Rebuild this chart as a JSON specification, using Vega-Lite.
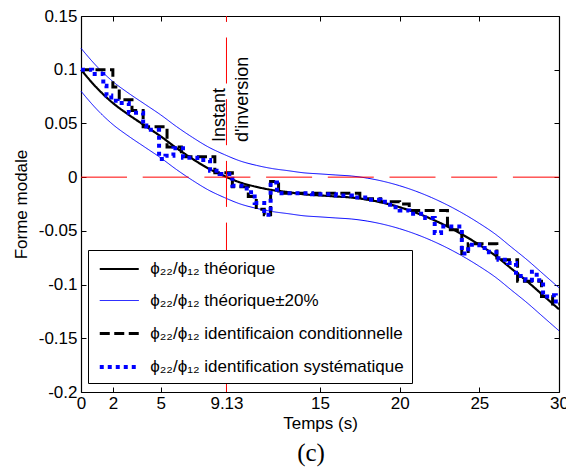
{
  "$schema": "https://vega.github.io/schema/vega-lite/v6.json",
  "width": 478,
  "height": 376,
  "autosize": {"type": "none"},
  "padding": {"left": 81, "top": 16, "right": 7, "bottom": 79},
  "background": "white",
  "config": {
    "view": {"stroke": null},
    "font": "Liberation Sans",
    "axis": {
      "grid": false,
      "domainColor": "#000",
      "domainWidth": 1.2,
      "tickColor": "#000",
      "tickWidth": 1,
      "tickSize": -5,
      "labelColor": "#000",
      "titleColor": "#000",
      "labelFont": "Liberation Sans",
      "titleFont": "Liberation Sans",
      "labelFontSize": 17,
      "titleFontSize": 17,
      "titleFontWeight": "normal"
    }
  },
  "title": {
    "text": "(c)",
    "orient": "bottom",
    "frame": "group",
    "anchor": "middle",
    "font": "Liberation Serif",
    "fontSize": 25,
    "fontWeight": "normal",
    "color": "#000",
    "dx": -9,
    "offset": 9
  },
  "datasets": {
    "theory": [
      {"t": 0, "v": 0.100, "s": "ϕ₂₂/ϕ₁₂ théorique", "g": "th"},
      {"t": 1, "v": 0.083, "s": "ϕ₂₂/ϕ₁₂ théorique", "g": "th"},
      {"t": 2, "v": 0.069, "s": "ϕ₂₂/ϕ₁₂ théorique", "g": "th"},
      {"t": 3, "v": 0.058, "s": "ϕ₂₂/ϕ₁₂ théorique", "g": "th"},
      {"t": 4, "v": 0.048, "s": "ϕ₂₂/ϕ₁₂ théorique", "g": "th"},
      {"t": 5, "v": 0.038, "s": "ϕ₂₂/ϕ₁₂ théorique", "g": "th"},
      {"t": 6, "v": 0.027, "s": "ϕ₂₂/ϕ₁₂ théorique", "g": "th"},
      {"t": 7, "v": 0.017, "s": "ϕ₂₂/ϕ₁₂ théorique", "g": "th"},
      {"t": 8, "v": 0.008, "s": "ϕ₂₂/ϕ₁₂ théorique", "g": "th"},
      {"t": 9, "v": 0.001, "s": "ϕ₂₂/ϕ₁₂ théorique", "g": "th"},
      {"t": 10, "v": -0.005, "s": "ϕ₂₂/ϕ₁₂ théorique", "g": "th"},
      {"t": 11, "v": -0.009, "s": "ϕ₂₂/ϕ₁₂ théorique", "g": "th"},
      {"t": 12, "v": -0.012, "s": "ϕ₂₂/ϕ₁₂ théorique", "g": "th"},
      {"t": 13, "v": -0.014, "s": "ϕ₂₂/ϕ₁₂ théorique", "g": "th"},
      {"t": 14, "v": -0.016, "s": "ϕ₂₂/ϕ₁₂ théorique", "g": "th"},
      {"t": 15, "v": -0.017, "s": "ϕ₂₂/ϕ₁₂ théorique", "g": "th"},
      {"t": 16, "v": -0.018, "s": "ϕ₂₂/ϕ₁₂ théorique", "g": "th"},
      {"t": 17, "v": -0.019, "s": "ϕ₂₂/ϕ₁₂ théorique", "g": "th"},
      {"t": 18, "v": -0.021, "s": "ϕ₂₂/ϕ₁₂ théorique", "g": "th"},
      {"t": 19, "v": -0.024, "s": "ϕ₂₂/ϕ₁₂ théorique", "g": "th"},
      {"t": 20, "v": -0.028, "s": "ϕ₂₂/ϕ₁₂ théorique", "g": "th"},
      {"t": 21, "v": -0.033, "s": "ϕ₂₂/ϕ₁₂ théorique", "g": "th"},
      {"t": 22, "v": -0.039, "s": "ϕ₂₂/ϕ₁₂ théorique", "g": "th"},
      {"t": 23, "v": -0.046, "s": "ϕ₂₂/ϕ₁₂ théorique", "g": "th"},
      {"t": 24, "v": -0.054, "s": "ϕ₂₂/ϕ₁₂ théorique", "g": "th"},
      {"t": 25, "v": -0.063, "s": "ϕ₂₂/ϕ₁₂ théorique", "g": "th"},
      {"t": 26, "v": -0.073, "s": "ϕ₂₂/ϕ₁₂ théorique", "g": "th"},
      {"t": 27, "v": -0.085, "s": "ϕ₂₂/ϕ₁₂ théorique", "g": "th"},
      {"t": 28, "v": -0.097, "s": "ϕ₂₂/ϕ₁₂ théorique", "g": "th"},
      {"t": 29, "v": -0.110, "s": "ϕ₂₂/ϕ₁₂ théorique", "g": "th"},
      {"t": 30, "v": -0.123, "s": "ϕ₂₂/ϕ₁₂ théorique", "g": "th"},
      {"t": 0, "v": 0.120, "s": "ϕ₂₂/ϕ₁₂ théorique±20%", "g": "up"},
      {"t": 1, "v": 0.103, "s": "ϕ₂₂/ϕ₁₂ théorique±20%", "g": "up"},
      {"t": 2, "v": 0.089, "s": "ϕ₂₂/ϕ₁₂ théorique±20%", "g": "up"},
      {"t": 3, "v": 0.078, "s": "ϕ₂₂/ϕ₁₂ théorique±20%", "g": "up"},
      {"t": 4, "v": 0.068, "s": "ϕ₂₂/ϕ₁₂ théorique±20%", "g": "up"},
      {"t": 5, "v": 0.058, "s": "ϕ₂₂/ϕ₁₂ théorique±20%", "g": "up"},
      {"t": 6, "v": 0.047, "s": "ϕ₂₂/ϕ₁₂ théorique±20%", "g": "up"},
      {"t": 7, "v": 0.037, "s": "ϕ₂₂/ϕ₁₂ théorique±20%", "g": "up"},
      {"t": 8, "v": 0.028, "s": "ϕ₂₂/ϕ₁₂ théorique±20%", "g": "up"},
      {"t": 9, "v": 0.021, "s": "ϕ₂₂/ϕ₁₂ théorique±20%", "g": "up"},
      {"t": 10, "v": 0.015, "s": "ϕ₂₂/ϕ₁₂ théorique±20%", "g": "up"},
      {"t": 11, "v": 0.011, "s": "ϕ₂₂/ϕ₁₂ théorique±20%", "g": "up"},
      {"t": 12, "v": 0.008, "s": "ϕ₂₂/ϕ₁₂ théorique±20%", "g": "up"},
      {"t": 13, "v": 0.006, "s": "ϕ₂₂/ϕ₁₂ théorique±20%", "g": "up"},
      {"t": 14, "v": 0.004, "s": "ϕ₂₂/ϕ₁₂ théorique±20%", "g": "up"},
      {"t": 15, "v": 0.003, "s": "ϕ₂₂/ϕ₁₂ théorique±20%", "g": "up"},
      {"t": 16, "v": 0.002, "s": "ϕ₂₂/ϕ₁₂ théorique±20%", "g": "up"},
      {"t": 17, "v": 0.001, "s": "ϕ₂₂/ϕ₁₂ théorique±20%", "g": "up"},
      {"t": 18, "v": -0.001, "s": "ϕ₂₂/ϕ₁₂ théorique±20%", "g": "up"},
      {"t": 19, "v": -0.004, "s": "ϕ₂₂/ϕ₁₂ théorique±20%", "g": "up"},
      {"t": 20, "v": -0.008, "s": "ϕ₂₂/ϕ₁₂ théorique±20%", "g": "up"},
      {"t": 21, "v": -0.013, "s": "ϕ₂₂/ϕ₁₂ théorique±20%", "g": "up"},
      {"t": 22, "v": -0.019, "s": "ϕ₂₂/ϕ₁₂ théorique±20%", "g": "up"},
      {"t": 23, "v": -0.026, "s": "ϕ₂₂/ϕ₁₂ théorique±20%", "g": "up"},
      {"t": 24, "v": -0.034, "s": "ϕ₂₂/ϕ₁₂ théorique±20%", "g": "up"},
      {"t": 25, "v": -0.043, "s": "ϕ₂₂/ϕ₁₂ théorique±20%", "g": "up"},
      {"t": 26, "v": -0.053, "s": "ϕ₂₂/ϕ₁₂ théorique±20%", "g": "up"},
      {"t": 27, "v": -0.065, "s": "ϕ₂₂/ϕ₁₂ théorique±20%", "g": "up"},
      {"t": 28, "v": -0.077, "s": "ϕ₂₂/ϕ₁₂ théorique±20%", "g": "up"},
      {"t": 29, "v": -0.090, "s": "ϕ₂₂/ϕ₁₂ théorique±20%", "g": "up"},
      {"t": 30, "v": -0.103, "s": "ϕ₂₂/ϕ₁₂ théorique±20%", "g": "up"},
      {"t": 0, "v": 0.080, "s": "ϕ₂₂/ϕ₁₂ théorique±20%", "g": "lo"},
      {"t": 1, "v": 0.063, "s": "ϕ₂₂/ϕ₁₂ théorique±20%", "g": "lo"},
      {"t": 2, "v": 0.049, "s": "ϕ₂₂/ϕ₁₂ théorique±20%", "g": "lo"},
      {"t": 3, "v": 0.038, "s": "ϕ₂₂/ϕ₁₂ théorique±20%", "g": "lo"},
      {"t": 4, "v": 0.028, "s": "ϕ₂₂/ϕ₁₂ théorique±20%", "g": "lo"},
      {"t": 5, "v": 0.018, "s": "ϕ₂₂/ϕ₁₂ théorique±20%", "g": "lo"},
      {"t": 6, "v": 0.007, "s": "ϕ₂₂/ϕ₁₂ théorique±20%", "g": "lo"},
      {"t": 7, "v": -0.003, "s": "ϕ₂₂/ϕ₁₂ théorique±20%", "g": "lo"},
      {"t": 8, "v": -0.012, "s": "ϕ₂₂/ϕ₁₂ théorique±20%", "g": "lo"},
      {"t": 9, "v": -0.019, "s": "ϕ₂₂/ϕ₁₂ théorique±20%", "g": "lo"},
      {"t": 10, "v": -0.025, "s": "ϕ₂₂/ϕ₁₂ théorique±20%", "g": "lo"},
      {"t": 11, "v": -0.029, "s": "ϕ₂₂/ϕ₁₂ théorique±20%", "g": "lo"},
      {"t": 12, "v": -0.032, "s": "ϕ₂₂/ϕ₁₂ théorique±20%", "g": "lo"},
      {"t": 13, "v": -0.034, "s": "ϕ₂₂/ϕ₁₂ théorique±20%", "g": "lo"},
      {"t": 14, "v": -0.036, "s": "ϕ₂₂/ϕ₁₂ théorique±20%", "g": "lo"},
      {"t": 15, "v": -0.037, "s": "ϕ₂₂/ϕ₁₂ théorique±20%", "g": "lo"},
      {"t": 16, "v": -0.038, "s": "ϕ₂₂/ϕ₁₂ théorique±20%", "g": "lo"},
      {"t": 17, "v": -0.039, "s": "ϕ₂₂/ϕ₁₂ théorique±20%", "g": "lo"},
      {"t": 18, "v": -0.041, "s": "ϕ₂₂/ϕ₁₂ théorique±20%", "g": "lo"},
      {"t": 19, "v": -0.044, "s": "ϕ₂₂/ϕ₁₂ théorique±20%", "g": "lo"},
      {"t": 20, "v": -0.048, "s": "ϕ₂₂/ϕ₁₂ théorique±20%", "g": "lo"},
      {"t": 21, "v": -0.053, "s": "ϕ₂₂/ϕ₁₂ théorique±20%", "g": "lo"},
      {"t": 22, "v": -0.059, "s": "ϕ₂₂/ϕ₁₂ théorique±20%", "g": "lo"},
      {"t": 23, "v": -0.066, "s": "ϕ₂₂/ϕ₁₂ théorique±20%", "g": "lo"},
      {"t": 24, "v": -0.074, "s": "ϕ₂₂/ϕ₁₂ théorique±20%", "g": "lo"},
      {"t": 25, "v": -0.083, "s": "ϕ₂₂/ϕ₁₂ théorique±20%", "g": "lo"},
      {"t": 26, "v": -0.093, "s": "ϕ₂₂/ϕ₁₂ théorique±20%", "g": "lo"},
      {"t": 27, "v": -0.105, "s": "ϕ₂₂/ϕ₁₂ théorique±20%", "g": "lo"},
      {"t": 28, "v": -0.117, "s": "ϕ₂₂/ϕ₁₂ théorique±20%", "g": "lo"},
      {"t": 29, "v": -0.130, "s": "ϕ₂₂/ϕ₁₂ théorique±20%", "g": "lo"},
      {"t": 30, "v": -0.143, "s": "ϕ₂₂/ϕ₁₂ théorique±20%", "g": "lo"}
    ],
    "cond": [
      {"t": 0, "v": 0.100, "s": "ϕ₂₂/ϕ₁₂ identificaion conditionnelle"},
      {"t": 2.0, "v": 0.084, "s": "ϕ₂₂/ϕ₁₂ identificaion conditionnelle"},
      {"t": 2.4, "v": 0.072, "s": "ϕ₂₂/ϕ₁₂ identificaion conditionnelle"},
      {"t": 3.2, "v": 0.062, "s": "ϕ₂₂/ϕ₁₂ identificaion conditionnelle"},
      {"t": 3.9, "v": 0.047, "s": "ϕ₂₂/ϕ₁₂ identificaion conditionnelle"},
      {"t": 5.4, "v": 0.028, "s": "ϕ₂₂/ϕ₁₂ identificaion conditionnelle"},
      {"t": 6.3, "v": 0.019, "s": "ϕ₂₂/ϕ₁₂ identificaion conditionnelle"},
      {"t": 8.4, "v": 0.004, "s": "ϕ₂₂/ϕ₁₂ identificaion conditionnelle"},
      {"t": 9.5, "v": -0.009, "s": "ϕ₂₂/ϕ₁₂ identificaion conditionnelle"},
      {"t": 10.5, "v": -0.018, "s": "ϕ₂₂/ϕ₁₂ identificaion conditionnelle"},
      {"t": 11.0, "v": -0.030, "s": "ϕ₂₂/ϕ₁₂ identificaion conditionnelle"},
      {"t": 11.5, "v": -0.035, "s": "ϕ₂₂/ϕ₁₂ identificaion conditionnelle"},
      {"t": 11.9, "v": -0.004, "s": "ϕ₂₂/ϕ₁₂ identificaion conditionnelle"},
      {"t": 12.4, "v": -0.015, "s": "ϕ₂₂/ϕ₁₂ identificaion conditionnelle"},
      {"t": 17.5, "v": -0.020, "s": "ϕ₂₂/ϕ₁₂ identificaion conditionnelle"},
      {"t": 18.8, "v": -0.023, "s": "ϕ₂₂/ϕ₁₂ identificaion conditionnelle"},
      {"t": 20.0, "v": -0.025, "s": "ϕ₂₂/ϕ₁₂ identificaion conditionnelle"},
      {"t": 20.6, "v": -0.031, "s": "ϕ₂₂/ϕ₁₂ identificaion conditionnelle"},
      {"t": 23.0, "v": -0.049, "s": "ϕ₂₂/ϕ₁₂ identificaion conditionnelle"},
      {"t": 23.9, "v": -0.071, "s": "ϕ₂₂/ϕ₁₂ identificaion conditionnelle"},
      {"t": 24.3, "v": -0.062, "s": "ϕ₂₂/ϕ₁₂ identificaion conditionnelle"},
      {"t": 26.1, "v": -0.077, "s": "ϕ₂₂/ϕ₁₂ identificaion conditionnelle"},
      {"t": 27.4, "v": -0.097, "s": "ϕ₂₂/ϕ₁₂ identificaion conditionnelle"},
      {"t": 28.9, "v": -0.111, "s": "ϕ₂₂/ϕ₁₂ identificaion conditionnelle"},
      {"t": 29.6, "v": -0.118, "s": "ϕ₂₂/ϕ₁₂ identificaion conditionnelle"},
      {"t": 30, "v": -0.118, "s": "ϕ₂₂/ϕ₁₂ identificaion conditionnelle"}
    ],
    "syst": [
      {"t": 0, "v": 0.100, "s": "ϕ₂₂/ϕ₁₂ identification systématique"},
      {"t": 0.7, "v": 0.096, "s": "ϕ₂₂/ϕ₁₂ identification systématique"},
      {"t": 1.4, "v": 0.085, "s": "ϕ₂₂/ϕ₁₂ identification systématique"},
      {"t": 1.6, "v": 0.076, "s": "ϕ₂₂/ϕ₁₂ identification systématique"},
      {"t": 1.9, "v": 0.071, "s": "ϕ₂₂/ϕ₁₂ identification systématique"},
      {"t": 2.3, "v": 0.069, "s": "ϕ₂₂/ϕ₁₂ identification systématique"},
      {"t": 3.0, "v": 0.060, "s": "ϕ₂₂/ϕ₁₂ identification systématique"},
      {"t": 3.9, "v": 0.048, "s": "ϕ₂₂/ϕ₁₂ identification systématique"},
      {"t": 4.1, "v": 0.044, "s": "ϕ₂₂/ϕ₁₂ identification systématique"},
      {"t": 4.9, "v": 0.017, "s": "ϕ₂₂/ϕ₁₂ identification systématique"},
      {"t": 5.3, "v": 0.020, "s": "ϕ₂₂/ϕ₁₂ identification systématique"},
      {"t": 5.8, "v": 0.027, "s": "ϕ₂₂/ϕ₁₂ identification systématique"},
      {"t": 6.4, "v": 0.018, "s": "ϕ₂₂/ϕ₁₂ identification systématique"},
      {"t": 7.3, "v": 0.016, "s": "ϕ₂₂/ϕ₁₂ identification systématique"},
      {"t": 8.1, "v": 0.006, "s": "ϕ₂₂/ϕ₁₂ identification systématique"},
      {"t": 8.7, "v": 0.003, "s": "ϕ₂₂/ϕ₁₂ identification systématique"},
      {"t": 9.5, "v": -0.008, "s": "ϕ₂₂/ϕ₁₂ identification systématique"},
      {"t": 10.4, "v": -0.014, "s": "ϕ₂₂/ϕ₁₂ identification systématique"},
      {"t": 10.9, "v": -0.024, "s": "ϕ₂₂/ϕ₁₂ identification systématique"},
      {"t": 11.5, "v": -0.035, "s": "ϕ₂₂/ϕ₁₂ identification systématique"},
      {"t": 11.9, "v": -0.005, "s": "ϕ₂₂/ϕ₁₂ identification systématique"},
      {"t": 12.3, "v": -0.015, "s": "ϕ₂₂/ϕ₁₂ identification systématique"},
      {"t": 14.5, "v": -0.016, "s": "ϕ₂₂/ϕ₁₂ identification systématique"},
      {"t": 16.0, "v": -0.017, "s": "ϕ₂₂/ϕ₁₂ identification systématique"},
      {"t": 17.0, "v": -0.019, "s": "ϕ₂₂/ϕ₁₂ identification systématique"},
      {"t": 18.0, "v": -0.021, "s": "ϕ₂₂/ϕ₁₂ identification systématique"},
      {"t": 18.8, "v": -0.023, "s": "ϕ₂₂/ϕ₁₂ identification systématique"},
      {"t": 19.4, "v": -0.028, "s": "ϕ₂₂/ϕ₁₂ identification systématique"},
      {"t": 20.0, "v": -0.031, "s": "ϕ₂₂/ϕ₁₂ identification systématique"},
      {"t": 20.6, "v": -0.034, "s": "ϕ₂₂/ϕ₁₂ identification systématique"},
      {"t": 21.6, "v": -0.038, "s": "ϕ₂₂/ϕ₁₂ identification systématique"},
      {"t": 22.2, "v": -0.052, "s": "ϕ₂₂/ϕ₁₂ identification systématique"},
      {"t": 22.6, "v": -0.046, "s": "ϕ₂₂/ϕ₁₂ identification systématique"},
      {"t": 23.9, "v": -0.071, "s": "ϕ₂₂/ϕ₁₂ identification systématique"},
      {"t": 24.3, "v": -0.063, "s": "ϕ₂₂/ϕ₁₂ identification systématique"},
      {"t": 25.0, "v": -0.066, "s": "ϕ₂₂/ϕ₁₂ identification systématique"},
      {"t": 25.6, "v": -0.070, "s": "ϕ₂₂/ϕ₁₂ identification systématique"},
      {"t": 26.2, "v": -0.077, "s": "ϕ₂₂/ϕ₁₂ identification systématique"},
      {"t": 26.8, "v": -0.080, "s": "ϕ₂₂/ϕ₁₂ identification systématique"},
      {"t": 27.3, "v": -0.092, "s": "ϕ₂₂/ϕ₁₂ identification systématique"},
      {"t": 27.9, "v": -0.096, "s": "ϕ₂₂/ϕ₁₂ identification systématique"},
      {"t": 28.3, "v": -0.088, "s": "ϕ₂₂/ϕ₁₂ identification systématique"},
      {"t": 28.6, "v": -0.096, "s": "ϕ₂₂/ϕ₁₂ identification systématique"},
      {"t": 29.0, "v": -0.111, "s": "ϕ₂₂/ϕ₁₂ identification systématique"},
      {"t": 29.5, "v": -0.110, "s": "ϕ₂₂/ϕ₁₂ identification systématique"},
      {"t": 29.8, "v": -0.118, "s": "ϕ₂₂/ϕ₁₂ identification systématique"},
      {"t": 30, "v": -0.118, "s": "ϕ₂₂/ϕ₁₂ identification systématique"}
    ],
    "hline": [{"t": 0, "t2": 30, "v": 0}],
    "vline": [{"t": 9.13, "v": -0.2, "v2": 0.15}],
    "notes": [
      {"t": 9.01, "v": 0.0326, "label": "Instant"},
      {"t": 10.48, "v": 0.0326, "label": "d'inversion"}
    ]
  },
  "layer": [
    {
      "data": {"name": "theory"},
      "transform": [{"filter": "datum.g != 'th'"}],
      "mark": {"type": "line", "interpolate": "monotone"},
      "encoding": {
        "x": {
          "field": "t", "type": "quantitative",
          "scale": {"domain": [0, 30], "nice": false, "zero": false},
          "axis": {
            "orient": "bottom",
            "values": [0, 2, 5, 9.13, 15, 20, 25, 30],
            "format": ".3~g",
            "title": "Temps (s)",
            "labelPadding": 8.5,
            "titlePadding": 4,
            "labelFlush": false,
            "labelOverlap": false
          }
        },
        "y": {
          "field": "v", "type": "quantitative",
          "scale": {"domain": [-0.2, 0.15], "nice": false, "zero": false},
          "axis": {
            "orient": "left",
            "values": [-0.2, -0.15, -0.1, -0.05, 0, 0.05, 0.1, 0.15],
            "format": ".3~g",
            "labelExpr": "replace(datum.label, '−', '-')",
            "title": "Forme modale",
            "labelPadding": 9,
            "titlePadding": 8,
            "labelFlush": false,
            "labelOverlap": false
          }
        },
        "detail": {"field": "g"},
        "color": {
          "field": "s", "type": "nominal",
          "scale": {
            "domain": ["ϕ₂₂/ϕ₁₂ théorique", "ϕ₂₂/ϕ₁₂ théorique±20%", "ϕ₂₂/ϕ₁₂ identificaion conditionnelle", "ϕ₂₂/ϕ₁₂ identification systématique"],
            "range": ["#000000", "#0000ff", "#000000", "#0000ff"]
          },
          "legend": {
            "title": null,
            "orient": "none",
            "legendX": 7,
            "legendY": 234,
            "fillColor": "white",
            "strokeColor": "black",
            "padding": 8,
            "symbolType": "M-2,0H2",
            "symbolSize": 380,
            "symbolOffset": 11.25,
            "symbolFillColor": "transparent",
            "labelOffset": 19,
            "labelFont": "Liberation Sans",
            "labelFontSize": 17,
            "labelColor": "#000",
            "labelLimit": 400,
            "rowPadding": 13
          }
        },
        "strokeDash": {
          "field": "s", "type": "nominal",
          "scale": {
            "domain": ["ϕ₂₂/ϕ₁₂ théorique", "ϕ₂₂/ϕ₁₂ théorique±20%", "ϕ₂₂/ϕ₁₂ identificaion conditionnelle", "ϕ₂₂/ϕ₁₂ identification systématique"],
            "range": [[1, 0], [1, 0], [10, 4.5], [4, 4]]
          }
        },
        "strokeWidth": {
          "field": "s", "type": "nominal",
          "scale": {
            "type": "ordinal",
            "domain": ["ϕ₂₂/ϕ₁₂ théorique", "ϕ₂₂/ϕ₁₂ théorique±20%", "ϕ₂₂/ϕ₁₂ identificaion conditionnelle", "ϕ₂₂/ϕ₁₂ identification systématique"],
            "range": [2.2, 1, 3, 4]
          }
        }
      }
    },
    {
      "data": {"name": "theory"},
      "transform": [{"filter": "datum.g == 'th'"}],
      "mark": {"type": "line", "interpolate": "monotone", "strokeWidth": 2.2},
      "encoding": {
        "x": {"field": "t", "type": "quantitative", "axis": null},
        "y": {"field": "v", "type": "quantitative", "axis": null},
        "color": {"field": "s", "type": "nominal"},
        "strokeDash": {"field": "s", "type": "nominal"}
      }
    },
    {
      "data": {"name": "cond"},
      "mark": {"type": "line", "interpolate": "step-after", "strokeWidth": 3},
      "encoding": {
        "x": {"field": "t", "type": "quantitative", "axis": null},
        "y": {"field": "v", "type": "quantitative", "axis": null},
        "color": {"field": "s", "type": "nominal"},
        "strokeDash": {"field": "s", "type": "nominal"}
      }
    },
    {
      "data": {"name": "syst"},
      "mark": {"type": "line", "interpolate": "step-after", "strokeWidth": 4},
      "encoding": {
        "x": {"field": "t", "type": "quantitative", "axis": null},
        "y": {"field": "v", "type": "quantitative", "axis": null},
        "color": {"field": "s", "type": "nominal"},
        "strokeDash": {"field": "s", "type": "nominal"}
      }
    },
    {
      "data": {"name": "hline"},
      "mark": {"type": "rule", "color": "#ff0000", "strokeWidth": 1, "strokeDash": [46, 15.7]},
      "encoding": {
        "x": {
          "field": "t", "type": "quantitative",
          "axis": {"orient": "top", "values": [0, 2, 5, 9.13, 15, 20, 25, 30], "labels": false, "title": null}
        },
        "x2": {"field": "t2"},
        "y": {
          "field": "v", "type": "quantitative",
          "axis": {"orient": "right", "values": [-0.2, -0.15, -0.1, -0.05, 0, 0.05, 0.1, 0.15], "labels": false, "title": null}
        }
      }
    },
    {
      "data": {"name": "vline"},
      "mark": {"type": "rule", "color": "#ff0000", "strokeWidth": 1, "strokeDash": [46, 15.7]},
      "encoding": {
        "x": {"field": "t", "type": "quantitative", "axis": null},
        "y": {"field": "v", "type": "quantitative", "axis": null},
        "y2": {"field": "v2"}
      }
    },
    {
      "data": {"name": "notes"},
      "mark": {"type": "text", "angle": 270, "align": "left", "baseline": "alphabetic", "font": "Liberation Sans", "fontSize": 18, "color": "#000"},
      "encoding": {
        "x": {"field": "t", "type": "quantitative", "axis": null},
        "y": {"field": "v", "type": "quantitative", "axis": null},
        "text": {"field": "label"}
      }
    }
  ],
  "resolve": {"axis": {"x": "independent", "y": "independent"}}
}
